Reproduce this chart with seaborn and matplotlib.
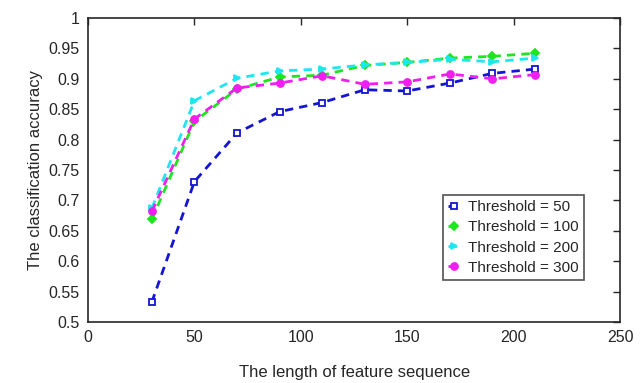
import numpy as np
import pandas as pd
import matplotlib
matplotlib.use('Agg')
import matplotlib.pyplot as plt
import seaborn as sns

# feature sequence length and accuracy per threshold
seq_len = [30, 50, 70, 90, 110, 130, 150, 170, 190, 210]
acc_50  = [0.533, 0.731, 0.811, 0.846, 0.861, 0.882, 0.880, 0.893, 0.909, 0.916]
acc_100 = [0.669, 0.830, 0.883, 0.903, 0.906, 0.922, 0.927, 0.934, 0.937, 0.942]
acc_200 = [0.687, 0.864, 0.901, 0.913, 0.916, 0.923, 0.927, 0.932, 0.928, 0.934]
acc_300 = [0.682, 0.834, 0.885, 0.893, 0.905, 0.891, 0.895, 0.908, 0.900, 0.907]
labels  = ['Threshold = 50', 'Threshold = 100', 'Threshold = 200', 'Threshold = 300']

df = pd.concat([pd.DataFrame({'len': seq_len, 'acc': a, 'thr': lab})
                for a, lab in zip([acc_50, acc_100, acc_200, acc_300], labels)])

sns.set_style('white')
plt.rcParams['font.family'] = ['Liberation Sans', 'DejaVu Sans']

colors = {labels[0]: '#1414d2', labels[1]: '#1ee61e', labels[2]: '#1ee6f0', labels[3]: '#f01ef0'}
markers = {labels[0]: 's', labels[1]: 'D', labels[2]: '>', labels[3]: 'o'}

fig = plt.figure(figsize=(6.4, 3.83), dpi=100)
ax = fig.add_axes([0.1375, 0.159, 0.8315, 0.794])
sns.lineplot(data=df, x='len', y='acc', hue='thr', style='thr', palette=colors,
             markers=markers, dashes={l: (3, 2.2) for l in labels},
             linewidth=2, markersize=5, markeredgewidth=1.3, ax=ax, legend=False)
for ln in ax.lines[:4]:
    ln.set_markeredgecolor(ln.get_color())
    if ln.get_marker() == 's':
        ln.set_markerfacecolor('white')
        ln.set_markersize(4)
    if ln.get_marker() == 'D':
        ln.set_markersize(4.5)

ax.set_xlim(0, 250)
ax.set_ylim(0.5, 1.0)
ax.set_xticks([0, 50, 100, 150, 200, 250])
ax.set_yticks(np.arange(0.5, 1.001, 0.05))
ax.set_yticklabels(['0.5', '0.55', '0.6', '0.65', '0.7', '0.75', '0.8', '0.85', '0.9', '0.95', '1'])
ax.tick_params(direction='in', length=5, width=1, top=True, right=True, labelsize=11.5,
               colors='#262626', pad=6)
for sp in ax.spines.values():
    sp.set_color('#262626')
    sp.set_linewidth(1.2)
ax.set_xlabel('The length of feature sequence', fontsize=12, color='#262626', labelpad=14)
ax.set_ylabel('The classification accuracy', fontsize=12, color='#262626', labelpad=4)

leg = ax.legend(ax.lines[:4], labels, loc='upper left', bbox_to_anchor=(0.667, 0.418),
                fontsize=11, frameon=True, fancybox=False, handlelength=0.8,
                handletextpad=0.5, borderpad=0.35, labelspacing=0.4, borderaxespad=0)
leg.get_frame().set_edgecolor('#262626')
leg.get_frame().set_linewidth(1.2)

fig.savefig('out.png', dpi=100)
